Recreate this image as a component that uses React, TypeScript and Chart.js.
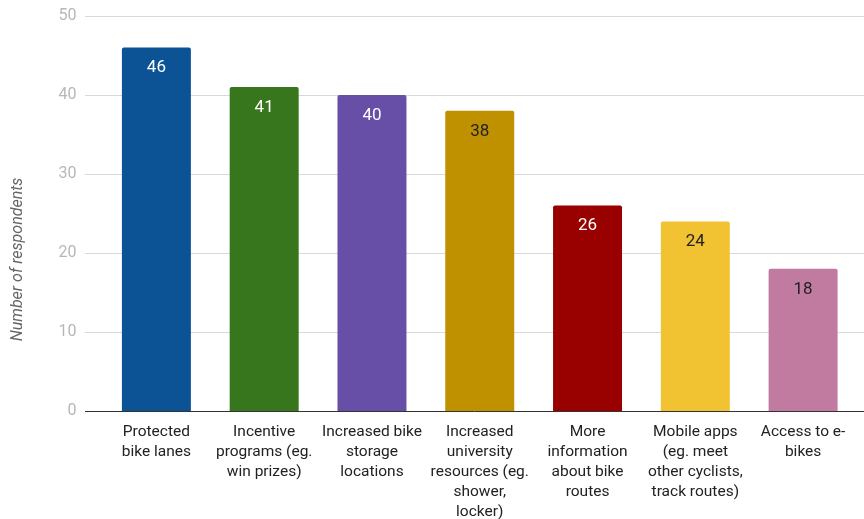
import React, { useEffect, useRef } from "react";
import { Chart, registerables } from "chart.js";

Chart.register(...registerables);

const categories: string[][] = [
  ["Protected", "bike lanes"],
  ["Incentive", "programs (eg.", "win prizes)"],
  ["Increased bike", "storage", "locations"],
  ["Increased", "university", "resources (eg.", "shower,", "locker)"],
  ["More", "information", "about bike", "routes"],
  ["Mobile apps", "(eg. meet", "other cyclists,", "track routes)"],
  ["Access to e-", "bikes"],
];
const values: number[] = [46, 41, 40, 38, 26, 24, 18];
const barColors: string[] = ["#0b5394", "#38761d", "#674ea7", "#bf9000", "#990000", "#f1c232", "#c27ba0"];
const labelColors: string[] = ["#ffffff", "#ffffff", "#ffffff", "#222222", "#ffffff", "#222222", "#222222"];
const yTicks: number[] = [0, 10, 20, 30, 40, 50];
const yTitle = "Number of respondents";

const FONT = "Roboto, 'Noto Sans', Arial, sans-serif";

const gridPlugin = {
  id: "gridPlugin",
  beforeDatasetsDraw(chart: any) {
    const ctx = chart.ctx;
    const y = chart.scales.y;
    ctx.save();
    ctx.lineWidth = 1;
    yTicks.forEach((v) => {
      if (v === 0) return;
      const py = Math.round(y.getPixelForValue(v)) + 0.5;
      ctx.strokeStyle = "#d9d9d9";
      ctx.beginPath();
      ctx.moveTo(85, py);
      ctx.lineTo(864, py);
      ctx.stroke();
    });
    ctx.restore();
  },
  afterDatasetsDraw(chart: any) {
    const ctx = chart.ctx;
    const y = chart.scales.y;
    ctx.save();
    const py = Math.round(y.getPixelForValue(0)) + 0.5;
    ctx.strokeStyle = "#333333";
    ctx.lineWidth = 1;
    ctx.beginPath();
    ctx.moveTo(85, py);
    ctx.lineTo(864, py);
    ctx.stroke();
    const meta = chart.getDatasetMeta(0);
    ctx.font = "17px " + FONT;
    ctx.textAlign = "center";
    ctx.textBaseline = "middle";
    meta.data.forEach((bar: any, i: number) => {
      ctx.fillStyle = labelColors[i];
      ctx.fillText(String(values[i]), bar.x, bar.y + 20.5);
    });
    // y axis title, centred on the canvas height
    ctx.translate(18, chart.height / 2);
    ctx.rotate(-Math.PI / 2);
    ctx.font = "italic 16px " + FONT;
    ctx.fillStyle = "#666666";
    ctx.fillText(yTitle, 0, 0);
    ctx.restore();
  },
};

export default function App() {
  const ref = useRef<HTMLCanvasElement>(null);
  useEffect(() => {
    if (!ref.current) return;
    const chart = new Chart(ref.current, {
      type: "bar",
      data: {
        labels: categories,
        datasets: [
          {
            data: values,
            backgroundColor: barColors,
            borderRadius: 2,
            borderSkipped: "bottom",
            barPercentage: 1,
            categoryPercentage: 0.64,
          },
        ],
      },
      options: {
        animation: false,
        responsive: false,
        maintainAspectRatio: false,
        layout: { padding: { top: 16, right: 7, left: 0, bottom: 0 } },
        plugins: { legend: { display: false }, tooltip: { enabled: false } },
        scales: {
          x: {
            grid: { display: false, drawTicks: false },
            border: { display: false },
            ticks: {
              autoSkip: false,
              maxRotation: 0,
              minRotation: 0,
              padding: 11,
              color: "#222222",
              font: { family: FONT, size: 15.5, lineHeight: 20 / 15.5 },
            },
            afterFit: (s: any) => {
              s.height = 108;
              s.paddingTop = 0;
              s.paddingBottom = 0;
              s.paddingLeft = 0;
              s.paddingRight = 0;
            },
          },
          y: {
            min: 0,
            max: 50,
            grid: { display: false, drawTicks: false },
            border: { display: false },
            ticks: {
              stepSize: 10,
              padding: 26,
              color: "#b7b7b7",
              font: { family: FONT, size: 16 },
            },
            afterFit: (s: any) => {
              s.width = 102.5;
              s.paddingTop = 0;
              s.paddingBottom = 0;
              s.paddingLeft = 0;
              s.paddingRight = 0;
            },
          },
        },
      },
      plugins: [gridPlugin],
    });
    return () => chart.destroy();
  }, []);
  return (
    <div style={{ position: "absolute", left: 0, top: 0, width: 864, height: 519, background: "#fff" }}>
      <canvas ref={ref} width={864} height={519} style={{ width: 864, height: 519 }} />
    </div>
  );
}
